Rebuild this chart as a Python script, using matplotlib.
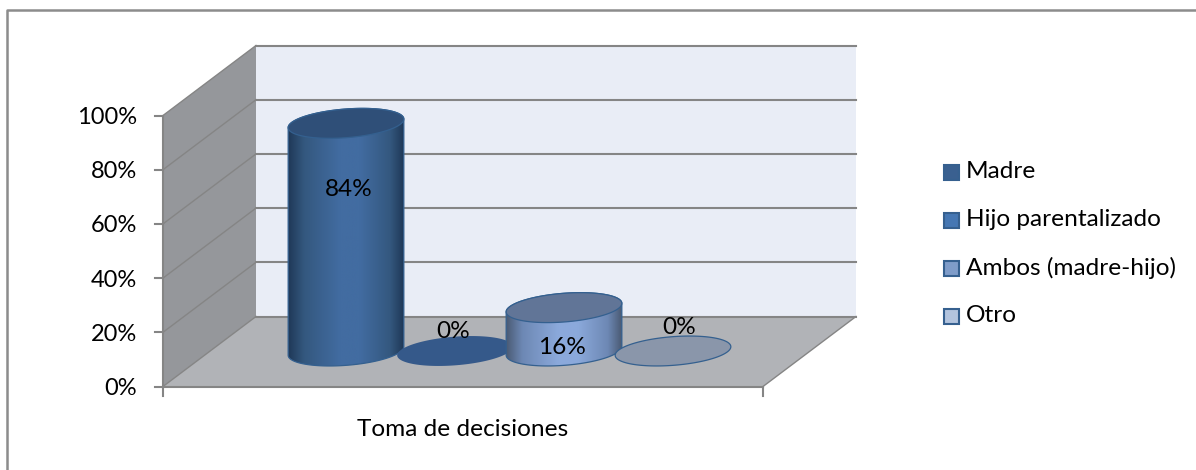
#!/usr/bin/env python3

import numpy as np
import matplotlib
matplotlib.use("Agg")
import matplotlib.pyplot as plt
from matplotlib.colors import LinearSegmentedColormap
from matplotlib.patches import Polygon, Rectangle

plt.rcParams['font.family'] = ['Lato', 'DejaVu Sans']

series = ["Madre", "Hijo parentalizado", "Ambos (madre-hijo)", "Otro"]
values = [84, 0, 16, 0]
ticks = [0, 20, 40, 60, 80, 100]
category = "Toma de decisiones"

# look of each series: side edge, side near the edge, side centre, top
side_edge = ["#1f3857", "#1f3857", "#4a5a73", "#6f7f99"]
side_near = ["#34587f", "#34587f", "#6d88b4", "#8fa3c4"]
side_mid = ["#426ca1", "#426ca1", "#8ba9db", "#b5c5e0"]
top_col = ["#2f4f78", "#35598a", "#617597", "#8a96aa"]
legend_col = ["#3a6090", "#4677b3", "#7f9cc9", "#b3c4de"]

# layout in pixels
X0, X1 = 163, 763      # front edge of floor
DX, DY = 93, 70        # depth offset to the back wall
Y0 = 386.5             # 0% at front
SCALE = 2.71           # pixels per percent
CX0, CSTEP = 346, 109  # cylinder centres
BASE_Y = 351           # cylinder base centre
A, B, TILT = 58, 14.3, np.radians(-4.5)
label_pos = [(349, 189), (453, 331), (562, 348), (679, 327)]
GRID = "#858585"
FS = 17.6


def yv(v):
    return Y0 - v * SCALE


def ellipse(cx, cy):
    t = np.linspace(0, 2 * np.pi, 241)[:-1]
    x = cx + A * np.cos(t) * np.cos(TILT) - B * np.sin(t) * np.sin(TILT)
    y = cy + A * np.cos(t) * np.sin(TILT) + B * np.sin(t) * np.cos(TILT)
    return np.column_stack([x, y])


def cylinder(ax, cx, value, i, z):
    top_y = BASE_Y - value * SCALE
    top = ellipse(cx, top_y)
    if value > 0:
        bot = ellipse(cx, BASE_Y)
        # lower half of the base, upper half of the top
        r, l = np.argmax(bot[:, 0]), np.argmin(bot[:, 0])
        lower = bot[r:l + 1]
        upper = np.vstack([top[l:], top[:r + 1]])
        outline = np.vstack([lower, upper])
        ax.add_patch(Polygon(outline, closed=True, fc="none", ec="#34608f", lw=0.9, zorder=z + 1))
        cmap = LinearSegmentedColormap.from_list(
            "c", [(0, side_edge[i]), (0.14, side_near[i]), (0.45, side_mid[i]),
                  (0.62, side_mid[i]), (0.88, side_near[i]), (1, side_edge[i])])
        grad = np.linspace(0, 1, 256).reshape(1, -1)
        im = ax.imshow(grad, cmap=cmap, extent=(cx - A, cx + A, BASE_Y + 20, top_y - 20),
                       aspect="auto", zorder=z)
        im.set_clip_path(Polygon(outline, closed=True, transform=ax.transData))
    ax.add_patch(Polygon(top, closed=True, fc=top_col[i],
                         ec="#34608f" if i != 1 else "none", lw=0.9, zorder=z + 2))


def main():
    fig = plt.figure(figsize=(11.96, 4.70), dpi=100)
    ax = fig.add_axes([0, 0, 1, 1])
    ax.set_xlim(0, 1196)
    ax.set_ylim(470, 0)
    ax.axis("off")

    # outer frame, only top and left are inside the picture
    ax.plot([7, 7, 1196], [470, 10, 10], color="#8c8c8c", lw=1.8, zorder=0)

    # walls and floor
    ytop = yv(100)
    ax.add_patch(Polygon([(X0 + DX, Y0 - DY), (X1 + DX, Y0 - DY), (X1 + DX, ytop - DY), (X0 + DX, ytop - DY)],
                         fc="#e9edf6", ec="none", zorder=1))
    ax.add_patch(Polygon([(X0, Y0), (X0 + DX, Y0 - DY), (X0 + DX, ytop - DY), (X0, ytop)],
                         fc="#95979b", ec="none", zorder=1))
    ax.add_patch(Polygon([(X0, Y0), (X1, Y0), (X1 + DX, Y0 - DY), (X0 + DX, Y0 - DY)],
                         fc="#b1b3b7", ec="none", zorder=1))

    # gridlines along both walls, ticks and labels
    for t in ticks:
        y = yv(t)
        ax.plot([X0, X0 + DX], [y, y - DY], color=GRID, lw=1.0, zorder=2)
        ax.plot([X0 + DX, X1 + DX], [y - DY, y - DY], color=GRID, lw=1.5, zorder=2)
        ax.plot([X0 - 8, X0], [y, y], color=GRID, lw=1.5, zorder=2)
        ax.text(137, y + 2, f"{t}%", ha="right", va="center", fontsize=17, color="black")
    ax.plot([X0, X0], [yv(100), Y0 + 9], color=GRID, lw=1.5, zorder=2)
    ax.plot([X1, X1], [Y0, Y0 + 9], color=GRID, lw=1.5, zorder=2)
    ax.plot([X0, X1], [Y0, Y0], color=GRID, lw=1.5, zorder=2)
    ax.plot([X1, X1 + DX], [Y0, Y0 - DY], color=GRID, lw=1.0, zorder=2)
    ax.text((X0 + X1) / 2, 429, category, ha="center", va="center", fontsize=FS, color="black")

    # cylinders, left to right so each one covers the one before
    for i, v in enumerate(values):
        cylinder(ax, CX0 + i * CSTEP, v, i, 3 + i * 3)
    for (x, y), v in zip(label_pos, values):
        ax.text(x, y, f"{v}%", ha="center", va="center", fontsize=FS, color="black", zorder=20)

    # legend
    for i, name in enumerate(series):
        y = 172 + i * 48
        ax.add_patch(Rectangle((944, y - 7.5), 15, 15, fc=legend_col[i], ec="#36608f", lw=1.5, zorder=3))
        ax.text(966, y, name, ha="left", va="center", fontsize=FS, color="black")

    fig.savefig("out.png", dpi=100)


if __name__ == "__main__":
    main()
